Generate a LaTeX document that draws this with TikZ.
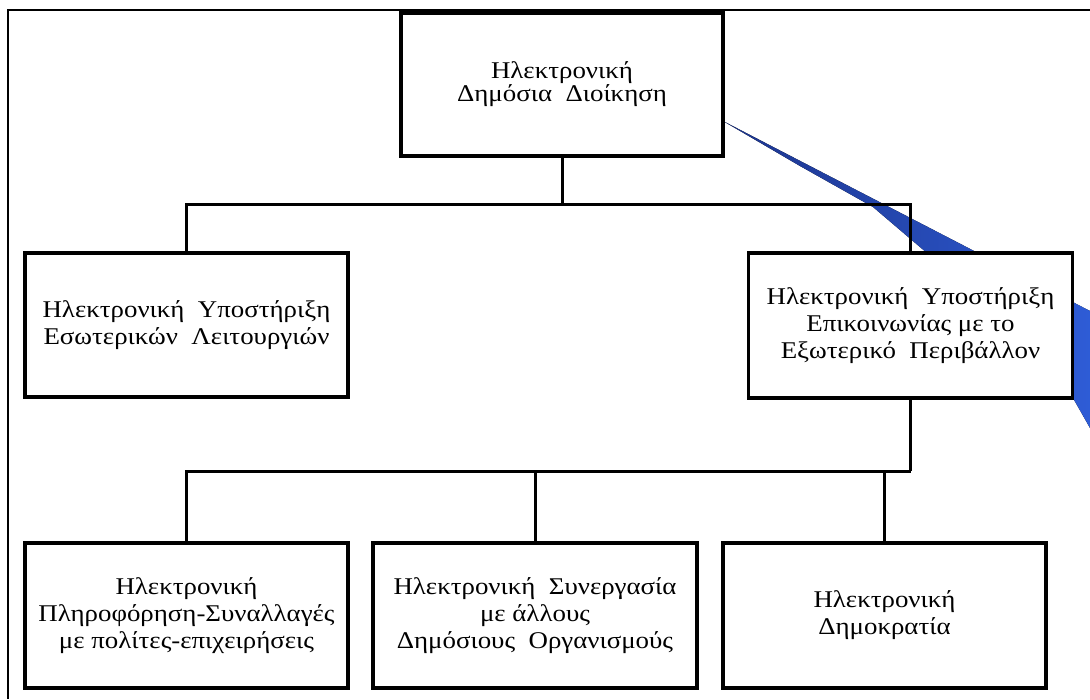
\documentclass[tikz,border=0pt]{standalone}
\usepackage{fontspec}
\setmainfont[FakeStretch=1.12]{Liberation Serif}
\begin{document}
\begin{tikzpicture}[x=1pt,y=-1pt,
  box/.style={draw=black,line width=3.5pt,fill=white,align=center,inner sep=0pt,
    font=\fontsize{24}{27}\selectfont},
  conn/.style={draw=black,line width=3pt},
  frameline/.style={draw=black,line width=2pt}]
\useasboundingbox (0,0) rectangle (1090,699);
\fill[white] (0,0) rectangle (1090,699);
% outer frame (top and left edges visible)
\coordinate (fa) at (1090,10);
\coordinate (fb) at (8,10);
\coordinate (fc) at (8,699);
\draw[frameline] (fa) -- (fb) -- (fc);
% blue ribbon
\fill[left color={rgb,255:red,28;green,52;blue,140},right color={rgb,255:red,46;green,92;blue,214}]
  (723,121) -- (1090,311) -- (1090,428) -- (1073,398) -- (927,253) -- (873,207) -- (800,166) -- cycle;
% nodes
\node[box,minimum width=322pt,minimum height=143pt,font=\fontsize{24}{23}\selectfont] (top) at (562,84.5)
  {Ηλεκτρονική\\Δημόσια\ \ Διοίκηση};
\node[box,minimum width=323pt,minimum height=144pt] (L) at (186.5,325)
  {Ηλεκτρονική\ \ Υποστήριξη\\Εσωτερικών\ \ Λειτουργιών};
\node[box,minimum width=324pt,minimum height=145pt] (R) at (910.5,325.5)
  {Ηλεκτρονική\ \ Υποστήριξη\\Επικοινωνίας με το\\Εξωτερικό\ \ Περιβάλλον};
\node[box,minimum width=323pt,minimum height=145pt] (B1) at (186.5,615.5)
  {Ηλεκτρονική\\Πληροφόρηση-Συναλλαγές\\με πολίτες-επιχειρήσεις};
\node[box,minimum width=324pt,minimum height=145pt] (B2) at (535,615.5)
  {Ηλεκτρονική\ \ Συνεργασία\\με άλλους\\Δημόσιους\ \ Οργανισμούς};
\node[box,minimum width=323pt,minimum height=145pt] (B3) at (884.5,615.5)
  {Ηλεκτρονική\\Δημοκρατία};
% connectors
\coordinate (bus1) at (562,204);
\coordinate (bus2) at (910.5,471);
\draw[conn] (top.south) -- (bus1);
\draw[conn] (L.north) |- (bus1) -| (R.north);
\draw[conn] (R.south) -- (bus2);
\draw[conn] (B1.north) |- (bus2);
\draw[conn] (B2.north) -- (B2.north |- bus2);
\draw[conn] (B3.north) -- (B3.north |- bus2);
\end{tikzpicture}
\end{document}
